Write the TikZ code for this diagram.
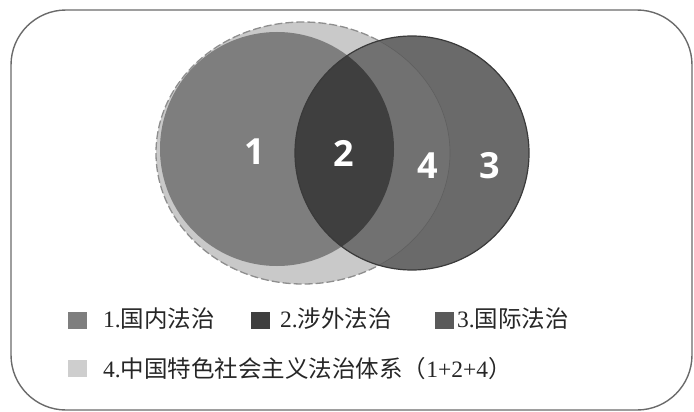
\documentclass[tikz,border=0pt]{standalone}
\usepackage{fontspec}
\setmainfont{Liberation Serif}
\setsansfont{Open Sans}
\newfontfamily\cjk{Noto Sans CJK SC}
\definecolor{frameC}{HTML}{6A6A6A}
\definecolor{ellC}{HTML}{C9C9C9}
\definecolor{ellLine}{HTML}{8E8E8E}
\definecolor{oneC}{HTML}{7E7E7E}
\definecolor{threeC}{HTML}{6A6A6A}
\definecolor{fourC}{HTML}{717171}
\definecolor{twoC}{HTML}{3F3F3F}
\definecolor{edgeC}{HTML}{3A3A3A}
\definecolor{txtC}{HTML}{262626}
\tikzset{
  numlabel/.style={text=white,font=\sffamily\bfseries\fontsize{36}{36}\selectfont,inner sep=0pt},
  legsq/.style={minimum width=19pt,minimum height=17pt,inner sep=0pt,draw=none},
  legtext/.style={anchor=base west,inner sep=0pt,text=txtC,font=\fontsize{23.5}{23.5}\selectfont}
}
\begin{document}
\begin{tikzpicture}[x=1pt,y=-1pt]
\useasboundingbox (0,0) rectangle (694,412);
% frame
\draw[frameC,line width=1.4pt,rounded corners=55pt] (11,10) rectangle (692,410);
% ellipse 4
\fill[ellC] (303,153) ellipse [x radius=147,y radius=131];
\draw[ellLine,line width=1.3pt,dash pattern=on 8pt off 3pt] (303,153) ellipse [x radius=147,y radius=131];
% circle 1
\fill[oneC] (277,149) circle [radius=117];
% circle 3
\fill[threeC] (412,153) circle [radius=117];
\begin{scope}
  \clip (412,153) circle [radius=117];
  \fill[fourC] (303,153) ellipse [x radius=147,y radius=131];
  \draw[threeC!90!black,line width=0.6pt] (303,153) ellipse [x radius=147,y radius=131];
  \fill[twoC] (277,149) circle [radius=117];
\end{scope}
\draw[edgeC,line width=1.2pt] (412,153) circle [radius=117];
% numbers
\node[numlabel] (n1) at (255,152) {1};
\node[numlabel] (n2) at (344,153) {2};
\node[numlabel] (n4) at (428,166) {4};
\node[numlabel] (n3) at (490,166) {3};
% legend
\node[legsq,fill=oneC] (s1) at (77,320) {};
\node[legtext] (t1) at (103,327) {1.{\cjk 国内法治}};
\node[legsq,fill=twoC] (s2) at (260,320) {};
\node[legtext] (t2) at (280,327) {2.{\cjk 涉外法治}};
\node[legsq,fill=threeC!85!black] (s3) at (444,320) {};
\node[legtext] (t3) at (457,327) {3.{\cjk 国际法治}};
\node[legsq,fill=ellC!90!white] (s4) at (77,368) {};
\node[legtext] (t4) at (103,377) {4.{\cjk 中国特色社会主义法治体系（}1+2+4{\cjk ）}};
\end{tikzpicture}
\end{document}
